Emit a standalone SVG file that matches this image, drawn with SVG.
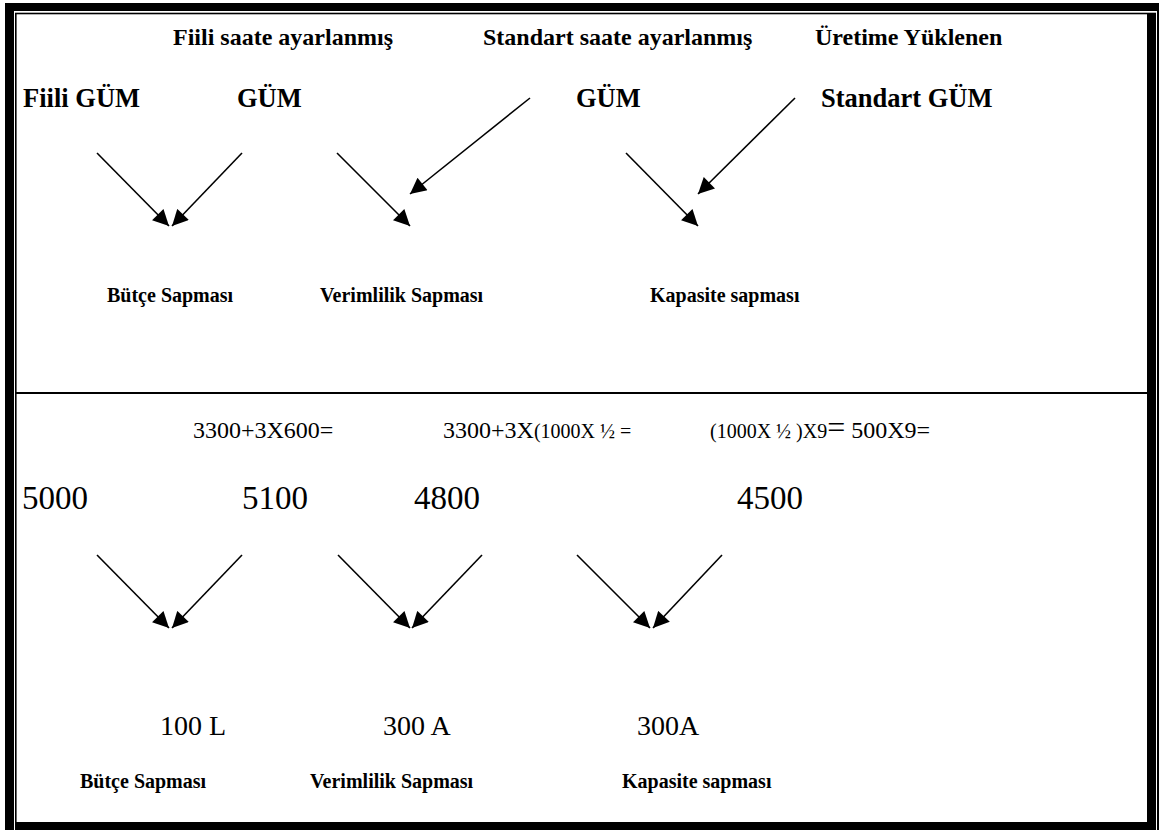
<svg xmlns="http://www.w3.org/2000/svg" width="1166" height="830" viewBox="0 0 1166 830">
  <style>
    text { font-family: "Liberation Serif", "Times New Roman", serif; fill: #000; }
    .hdr { font-size: 24px; font-weight: bold; }
    .head { font-size: 26.5px; font-weight: bold; }
    .sub { font-size: 20px; font-weight: bold; }
    .num { font-size: 33px; }
    .res { font-size: 28px; }
    .eq { font-size: 24px; }
    .eqs { font-size: 20px; }
    .conn line { stroke: #000; stroke-width: 1.6; marker-end: url(#arrow); }
  </style>
  <defs>
    <marker id="arrow" viewBox="0 0 10 10" refX="10" refY="5" markerUnits="userSpaceOnUse" markerWidth="18" markerHeight="16" orient="auto">
      <path d="M0,0 L10,5 L0,10 z" fill="#000"/>
    </marker>
  </defs>

  <rect width="1166" height="830" fill="#fff"/>

  <!-- page frame: thick/thin double border -->
  <g id="frame" fill="#000">
    <rect x="5" y="3" width="9" height="827"/>
    <rect x="15" y="13" width="1.6" height="810"/>
    <rect x="5" y="3" width="1154" height="8"/>
    <rect x="15" y="12.7" width="1141" height="1.6"/>
    <rect x="1147" y="13" width="9" height="817"/>
    <rect x="1157" y="3" width="2" height="827"/>
    <rect x="15" y="822" width="1141" height="8"/>
    <rect x="16" y="392" width="1131" height="2"/>
  </g>

  <!-- upper panel: definitions -->
  <g id="top-headers">
    <text class="hdr" x="173" y="45">Fiili saate ayarlanmış</text>
    <text class="hdr" x="483" y="45">Standart saate ayarlanmış</text>
    <text class="hdr" x="815" y="45">Üretime Yüklenen</text>
  </g>
  <g id="node-fiili-gum"><text class="head" x="23" y="107">Fiili GÜM</text></g>
  <g id="node-fiili-saat-gum"><text class="head" x="237" y="107">GÜM</text></g>
  <g id="node-std-saat-gum"><text class="head" x="576" y="107">GÜM</text></g>
  <g id="node-standart-gum"><text class="head" x="821" y="107">Standart GÜM</text></g>

  <g id="node-butce-top"><text class="sub" x="107" y="302">Bütçe Sapması</text></g>
  <g id="node-verim-top"><text class="sub" x="320" y="302">Verimlilik Sapması</text></g>
  <g id="node-kapasite-top"><text class="sub" x="650" y="302">Kapasite sapması</text></g>

  <!-- lower panel: worked figures -->
  <g id="formulas">
    <text class="eq" x="193" y="438">3300+3X600=</text>
    <text x="443" y="438"><tspan class="eq">3300+3X</tspan><tspan class="eqs">(1000X ½ =</tspan></text>
    <text x="710" y="438"><tspan class="eqs">(1000X ½ )X9</tspan><tspan font-size="32">=</tspan><tspan class="eq"> 500X9=</tspan></text>
  </g>
  <g id="node-5000"><text class="num" x="22" y="509">5000</text></g>
  <g id="node-5100"><text class="num" x="242" y="509">5100</text></g>
  <g id="node-4800"><text class="num" x="414" y="509">4800</text></g>
  <g id="node-4500"><text class="num" x="737" y="509">4500</text></g>

  <g id="node-100L"><text class="res" x="160" y="735">100 L</text></g>
  <g id="node-300A-1"><text class="res" x="383" y="735">300 A</text></g>
  <g id="node-300A-2"><text class="res" x="637" y="735">300A</text></g>

  <g id="node-butce-bottom"><text class="sub" x="80" y="788">Bütçe Sapması</text></g>
  <g id="node-verim-bottom"><text class="sub" x="310" y="788">Verimlilik Sapması</text></g>
  <g id="node-kapasite-bottom"><text class="sub" x="622" y="788">Kapasite sapması</text></g>

  <!-- connectors -->
  <g id="connectors" class="conn">
    <line x1="97" y1="153" x2="169" y2="226"/>
    <line x1="242" y1="153" x2="172" y2="226"/>
    <line x1="337" y1="153" x2="410" y2="226"/>
    <line x1="530" y1="98" x2="410" y2="194"/>
    <line x1="626" y1="153" x2="698" y2="226"/>
    <line x1="795" y1="98" x2="698" y2="194"/>

    <line x1="97" y1="555" x2="169" y2="628"/>
    <line x1="242" y1="555" x2="172" y2="628"/>
    <line x1="338" y1="555" x2="410" y2="628"/>
    <line x1="482" y1="555" x2="412" y2="628"/>
    <line x1="577" y1="555" x2="650" y2="628"/>
    <line x1="722" y1="555" x2="653" y2="628"/>
  </g>
</svg>
